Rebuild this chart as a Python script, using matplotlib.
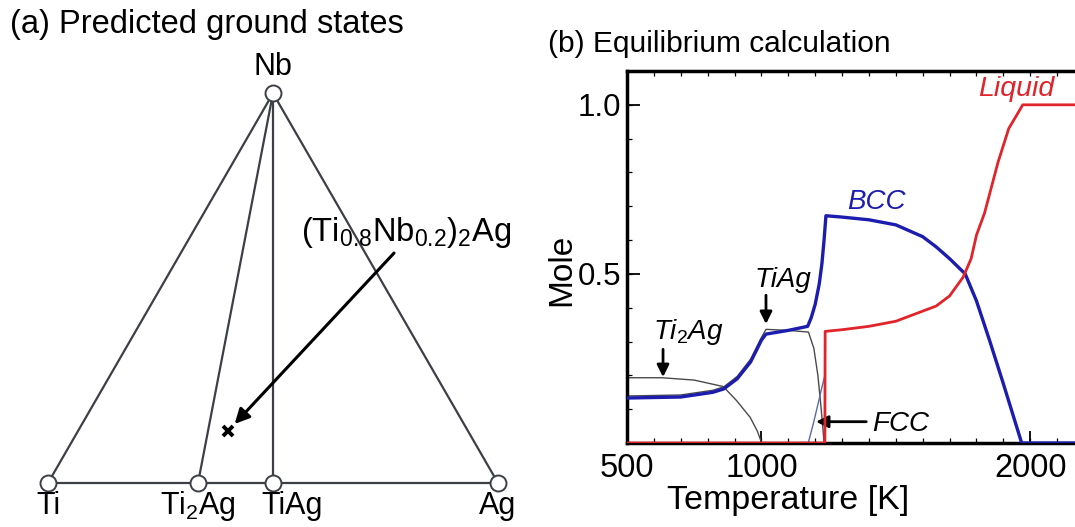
import numpy as np
import matplotlib
matplotlib.use("Agg")
import matplotlib.pyplot as plt
from matplotlib.ticker import MultipleLocator

plt.rcParams['font.family'] = ['Liberation Sans', 'DejaVu Sans']
plt.rcParams['mathtext.fontset'] = 'custom'
plt.rcParams['mathtext.rm'] = 'Liberation Sans'
plt.rcParams['mathtext.it'] = 'Liberation Sans:italic'

# ---- (a) ternary ground states: compositions as (Ti, Nb, Ag) fractions
vertex_names = ['Ti', 'Ti$_2$Ag', 'TiAg', 'Ag', 'Nb']
vertex_comp = [(1, 0, 0), (2/3, 0, 1/3), (0.5, 0, 0.5), (0, 0, 1), (0, 1, 0)]
tie_lines = [('Ti', 'Ag'), ('Ti', 'Nb'), ('Ag', 'Nb'), ('Ti$_2$Ag', 'Nb'), ('TiAg', 'Nb')]
alloy_comp = (0.8 * 2 / 3, 0.2 * 2 / 3, 1 / 3)
alloy_label = r'(Ti$_{0.8}$Nb$_{0.2}$)$_2$Ag'

# ---- (b) equilibrium calculation
liq_T = [500, 1236, 1237, 1300, 1400, 1500, 1600, 1650, 1700, 1750, 1780, 1800, 1830,
         1860, 1880, 1920, 1950, 1972, 2200]
liq_x = [0, 0, 0.33, 0.335, 0.345, 0.36, 0.39, 0.405, 0.435, 0.49, 0.545, 0.615, 0.68,
         0.77, 0.83, 0.93, 0.97, 1.0, 1.0]
bcc_T = [500, 700, 820, 860, 910, 960, 1000, 1017, 1100, 1172, 1185, 1200, 1215, 1225,
         1233, 1240, 1300, 1400, 1500, 1600, 1650, 1700, 1758, 1800, 1850, 1900, 1968, 2200]
bcc_x = [0.133, 0.136, 0.150, 0.160, 0.19, 0.24, 0.304, 0.322, 0.333, 0.345, 0.37, 0.41,
         0.47, 0.53, 0.60, 0.672, 0.668, 0.66, 0.645, 0.61, 0.58, 0.545, 0.50, 0.42, 0.30,
         0.175, 0.0, 0.0]
tiag_T = [500, 700, 820, 860, 910, 960, 1000, 1017, 1100, 1175, 1195, 1210, 1220, 1228, 1233]
tiag_x = [0.139, 0.142, 0.156, 0.166, 0.197, 0.248, 0.312, 0.336, 0.333, 0.328, 0.28,
          0.20, 0.12, 0.05, 0.0]
ti2ag_T = [500, 630, 750, 858, 908, 958, 985, 1001]
ti2ag_x = [0.193, 0.193, 0.186, 0.167, 0.125, 0.076, 0.035, 0.0]
fcc_T = [1174, 1193, 1211, 1225, 1236]
fcc_x = [0.0, 0.057, 0.117, 0.165, 0.20]

fig = plt.figure(figsize=(10.75, 5.27), dpi=100)

# ---------------- panel (a)
axa = fig.add_axes([0, 0, 540 / 1075, 1])
axa.set_xlim(-48 / 450, (540 - 48) / 450)
axa.set_ylim(-(527 - 483) / 450, 483 / 450)
axa.axis('off')


def to_xy(c):
    ti, nb, ag = c
    return ag + 0.5 * nb, nb * np.sqrt(3) / 2


pts = {n: to_xy(c) for n, c in zip(vertex_names, vertex_comp)}
line_col = '#3c4046'
for a, b in tie_lines:
    axa.plot([pts[a][0], pts[b][0]], [pts[a][1], pts[b][1]], color=line_col, lw=1.6, zorder=1)
for n in vertex_names:
    axa.plot(*pts[n], 'o', ms=11.5, mfc='white', mec=line_col, mew=1.4, zorder=3)
    if n == 'Nb':
        axa.text(pts[n][0], pts[n][1] + 0.058, n, ha='center', va='center', fontsize=22)
    elif n == 'TiAg':
        axa.text(pts[n][0] + 0.042, pts[n][1] - 0.052, n, ha='center', va='center', fontsize=22)
    else:
        axa.text(pts[n][0], pts[n][1] - 0.052, n, ha='center', va='center', fontsize=22)

ax_, ay_ = to_xy(alloy_comp)
axa.plot(ax_, ay_, marker='x', ms=7, mew=2.8, color='black', zorder=4)
axa.annotate('', xy=(ax_, ay_), xytext=(0.769, 0.511),
             arrowprops=dict(arrowstyle='-|>', color='black', lw=2.2, mutation_scale=22,
                             shrinkA=0, shrinkB=7))
axa.text(0.795, 0.556, alloy_label, ha='center', va='center', fontsize=23.5)

fig.text(10 / 1075, 1 - 25 / 527, '(a) Predicted ground states', ha='left', va='center',
         fontsize=23.5)
fig.text(548 / 1075, 1 - 44 / 527, '(b) Equilibrium calculation', ha='left', va='center',
         fontsize=21.5)

# ---------------- panel (b)
axb = fig.add_axes([627 / 1075, (527 - 443) / 527, (1080 - 627) / 1075, (443 - 71) / 527])
axb.plot(ti2ag_T, ti2ag_x, color='#4a4a4a', lw=1.0, zorder=2)
axb.plot(tiag_T, tiag_x, color='#4a4a4a', lw=1.0, zorder=2)
axb.plot(fcc_T, fcc_x, color='#5a6aa8', lw=1.0, zorder=2)
axb.plot(bcc_T, bcc_x, color='#1c1cae', lw=2.4, zorder=3)
axb.plot(liq_T, liq_x, color='#e0242a', lw=2.0, zorder=4)

axb.set_xlim(500, 2185)
axb.set_ylim(0, 1.1)
axb.set_xticks([500, 1000, 2000])
axb.set_yticks([0.5, 1.0])
axb.set_yticklabels(['0.5', '1.0'])
axb.xaxis.set_minor_locator(MultipleLocator(100))
axb.yaxis.set_minor_locator(MultipleLocator(0.1))
axb.xaxis.remove_overlapping_locs = False
axb.yaxis.remove_overlapping_locs = False
axb.tick_params(which='major', direction='in', length=9, width=1.3,
                top=False, right=False)
axb.tick_params(axis='x', which='major', pad=7, labelsize=23.5)
axb.tick_params(axis='y', which='major', pad=4, labelsize=22.5)
axb.tick_params(which='minor', direction='in', length=3.5, width=0.9, top=True, right=True)
for s in axb.spines.values():
    s.set_linewidth(2.5)

axb.text((562 - 627) / 453, (443 - 270) / 372, 'Mole', rotation=90, ha='center',
         va='center', fontsize=24, transform=axb.transAxes)
axb.text((788 - 627) / 453, (443 - 500) / 372, 'Temperature [K]', ha='center',
         va='center', fontsize=24.5, transform=axb.transAxes)

axb.text(1948, 1.048, 'Liquid', color='#e0242a', style='italic', fontsize=20.5,
         ha='center', va='center')
axb.text(1427, 0.713, 'BCC', color='#1c1cae', style='italic', fontsize=20,
         ha='center', va='center')
axb.text(1081, 0.481, 'TiAg', style='italic', fontsize=20, ha='center', va='center')
axb.text(727, 0.328, '$Ti_2Ag$', fontsize=20, ha='center', va='center')
axb.text(1516, 0.057, 'FCC', style='italic', fontsize=20, ha='center', va='center')

arrow = dict(arrowstyle='-|>', color='black', lw=2.0, mutation_scale=18, shrinkA=0, shrinkB=0)
axb.annotate('', xy=(1017, 0.352), xytext=(1017, 0.437), arrowprops=arrow)
axb.annotate('', xy=(634, 0.195), xytext=(634, 0.277), arrowprops=arrow)
axb.annotate('', xy=(1203, 0.063), xytext=(1390, 0.063), arrowprops=arrow)

fig.savefig('out.png', dpi=100)
